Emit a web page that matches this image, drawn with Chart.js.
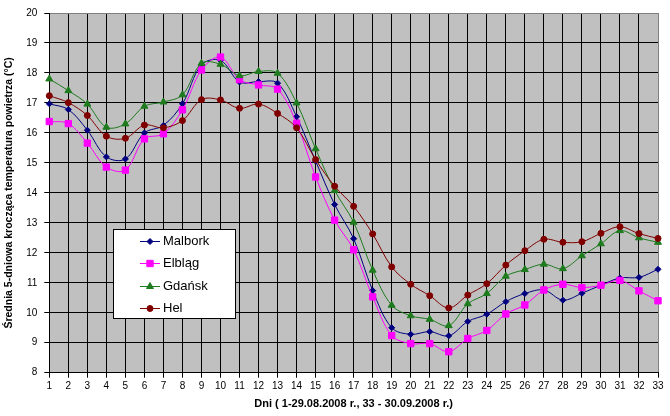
<!DOCTYPE html>
<html>
<head>
<meta charset="utf-8">
<script src="https://cdn.jsdelivr.net/npm/chart.js@4/dist/chart.umd.min.js"></script>
<style>
    html, body { margin: 0; padding: 0; background: #fff; }
</style>
</head>
<body>
<canvas id="chart-temp" width="670" height="416"></canvas>
<script>
const days = ['1', '2', '3', '4', '5', '6', '7', '8', '9', '10', '11', '12', '13', '14', '15', '16', '17',
    '18', '19', '20', '21', '22', '23', '24', '25', '26', '27', '28', '29', '30', '31', '32', '33'];

const malbork = [16.97, 16.78, 16.09, 15.20, 15.13, 16.00, 16.25, 16.97, 18.27, 18.42, 17.70, 17.71, 17.66,
    16.54, 15.06, 13.61, 12.47, 10.74, 9.50, 9.28, 9.37, 9.23, 9.71, 9.95, 10.37, 10.64, 10.76, 10.42,
    10.65, 10.92, 11.16, 11.18, 11.45];
const elblag = [16.38, 16.31, 15.66, 14.86, 14.76, 15.80, 15.97, 16.77, 18.10, 18.53, 17.78, 17.60, 17.46,
    16.32, 14.53, 13.09, 12.10, 10.53, 9.24, 8.97, 8.97, 8.70, 9.14, 9.41, 9.96, 10.26, 10.76, 10.95,
    10.84, 10.92, 11.08, 10.73, 10.40];
const gdansk = [17.80, 17.41, 16.96, 16.19, 16.30, 16.89, 17.03, 17.27, 18.32, 18.29, 17.91, 18.05, 17.99,
    17.00, 15.47, 14.08, 13.02, 11.42, 10.25, 9.90, 9.78, 9.57, 10.30, 10.64, 11.22, 11.44, 11.62, 11.47,
    11.90, 12.30, 12.74, 12.50, 12.35];
const hel = [17.24, 17.01, 16.58, 15.89, 15.82, 16.26, 16.17, 16.41, 17.11, 17.10, 16.82, 16.96, 16.65,
    16.17, 15.11, 14.22, 13.55, 12.63, 11.53, 10.95, 10.57, 10.16, 10.59, 10.97, 11.59, 12.07, 12.45, 12.35,
    12.37, 12.65, 12.87, 12.64, 12.48];

const yMin = 8;
const yMax = 20;

Chart.defaults.font.family = '"Liberation Sans", Arial, sans-serif';
Chart.defaults.color = '#000';

// gray plot area, like the Excel original
const plotBackground = {
    id: 'plotBackground',
    beforeDraw: (chart) => {
        const {ctx, chartArea: a} = chart;
        ctx.save();
        ctx.fillStyle = '#c0c0c0';
        ctx.fillRect(a.left, a.top, a.right - a.left, a.bottom - a.top);
        ctx.restore();
    }
};

// legend box sitting inside the plot area
const boxLegend = {
    id: 'boxLegend',
    afterDraw: (chart) => {
        const {ctx, chartArea: a} = chart;
        const x = Math.round(a.left + 64);
        const y = Math.round(a.top + 215.5);
        const w = 122;
        const h = 89;
        ctx.save();
        ctx.fillStyle = '#fff';
        ctx.fillRect(x, y, w, h);
        ctx.strokeStyle = '#000';
        ctx.lineWidth = 1;
        ctx.strokeRect(x + 0.5, y + 0.5, w, h);
        ctx.font = '13px "Liberation Sans", Arial, sans-serif';
        ctx.textBaseline = 'middle';
        chart.data.datasets.forEach((ds, i) => {
            const rowY = Math.round(y + 12 + i * 22.4) + 0.5;
            ctx.strokeStyle = ds.borderColor;
            ctx.fillStyle = ds.borderColor;
            ctx.beginPath();
            ctx.moveTo(x + 27, rowY);
            ctx.lineTo(x + 47, rowY);
            ctx.stroke();
            Chart.helpers.drawPoint(ctx, {pointStyle: ds.pointStyle, radius: ds.pointRadius, borderWidth: 1, rotation: 0}, x + 37, rowY);
            ctx.fillStyle = '#000';
            ctx.fillText(ds.label, x + 50, rowY);
        });
        ctx.restore();
    }
};

const makeSeries = (label, data, color, pointStyle, pointRadius, order) => ({
    label: label,
    data: data,
    borderColor: color,
    backgroundColor: color,
    pointBackgroundColor: color,
    pointBorderColor: color,
    pointStyle: pointStyle,
    pointRadius: pointRadius,
    pointBorderWidth: 1,
    borderWidth: 1,
    tension: 0.35,
    order: order,
});

const config = {
    type: 'line',
    data: {
        labels: days,
        datasets: [
            makeSeries('Malbork', malbork, '#000080', 'rectRot', 3, 4),
            makeSeries('Elbląg', elblag, '#ff00ff', 'rect', 4.5, 3),
            makeSeries('Gdańsk', gdansk, '#1e7b1e', 'triangle', 4, 2),
            makeSeries('Hel', hel, '#800000', 'circle', 3, 1),
        ]
    },
    options: {
        responsive: false,
        animation: false,
        layout: { padding: { left: 0, top: 12, right: 12, bottom: 0 } },
        plugins: {
            legend: { display: false },
            tooltip: { enabled: false },
        },
        scales: {
            x: {
                offset: false,
                grid: {
                    color: (c) => c.index === days.length - 1 ? '#808080' : '#000',
                    tickColor: '#000',
                    tickLength: 5,
                    lineWidth: 1,
                },
                border: { color: '#000' },
                ticks: {
                    color: '#000',
                    font: { size: 10 },
                    padding: 3,
                    maxRotation: 0,
                    autoSkip: false,
                },
                title: {
                    display: true,
                    text: 'Dni ( 1-29.08.2008 r., 33 - 30.09.2008 r.)',
                    color: '#000',
                    font: { size: 11, weight: 'bold' },
                    padding: { top: 0, bottom: 5 },
                },
                afterFit: (scale) => { scale.height = 43.3; },
            },
            y: {
                min: yMin,
                max: yMax,
                grid: {
                    color: (c) => c.tick && c.tick.value === yMax ? '#808080' : '#000',
                    tickColor: '#000',
                    tickLength: 5,
                    lineWidth: 1,
                },
                border: { color: '#000' },
                ticks: {
                    stepSize: 1,
                    color: '#000',
                    font: { size: 10 },
                    padding: 7,
                },
                title: {
                    display: true,
                    text: 'Średnia 5-dniowa krocząca temperatura powietrza (°C)',
                    color: '#000',
                    font: { size: 10.5, weight: 'bold' },
                    padding: { top: 3, bottom: 0 },
                },
                afterFit: (scale) => { scale.width = 49.3; },
            }
        }
    },
    plugins: [plotBackground, boxLegend]
};

new Chart(document.getElementById('chart-temp'), config);
</script>
</body>
</html>
